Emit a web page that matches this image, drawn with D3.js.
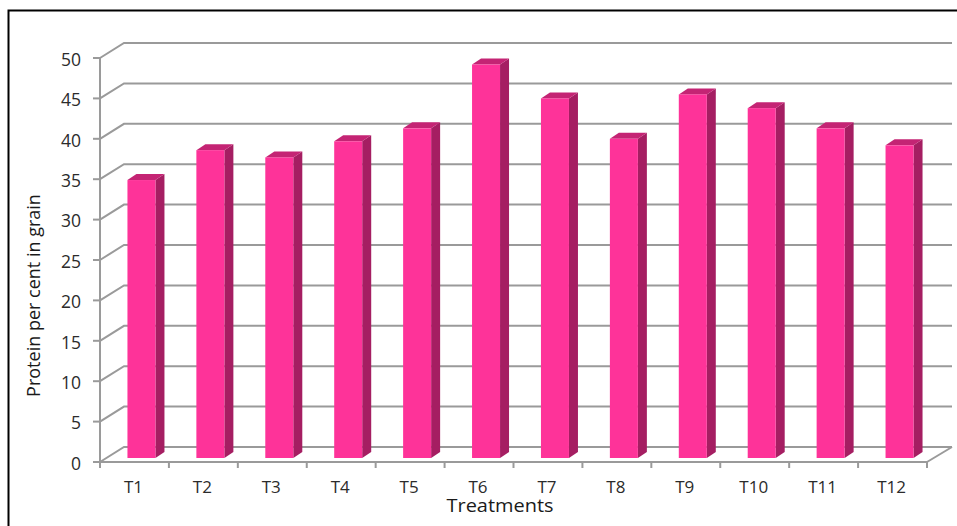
<!DOCTYPE html>
<html>
<head>
<meta charset="utf-8">
<script src="https://cdn.jsdelivr.net/npm/d3@7"></script>
<style>
html,body{margin:0;padding:0;background:#fff;overflow:hidden}
svg{display:block}
text{font-family:"Open Sans",sans-serif;fill:#2b2b2b}
</style>
</head>
<body>
<svg id="chart" width="957" height="526"></svg>
<script>
// Protein content of grain for each treatment
const treatments = ["T1","T2","T3","T4","T5","T6","T7","T8","T9","T10","T11","T12"];
const proteinValues = [34.4,38.1,37.2,39.2,40.8,48.7,44.5,39.5,45.0,43.3,40.8,38.7];
const yTicks = [0,5,10,15,20,25,30,35,40,45,50];
const axisTitleX = "Treatments";
const axisTitleY = "Protein per cent in grain";

const svg = d3.select("#chart");

// Frame around the chart; it runs off the right and bottom edges
svg.append("path")
  .attr("d","M8.5,526V10.5H957")
  .attr("fill","none").attr("stroke","#000").attr("stroke-width",2);

// Front plane of the 3D box, plus the offset to the back wall
const x = d3.scaleBand().domain(treatments).range([100,927]);
const y = d3.scaleLinear().domain([0,50]).range([462,58]);
const wall = {dx:24, dy:-15};
const barShift = {dx:7, dy:-4};   // bars stand a little behind the front edge
const barWidth = 28;
const side = {dx:9, dy:-6};

const grid = svg.append("g").attr("stroke","#9a9a9a").attr("stroke-width",2).attr("fill","none");

// Back-wall gridlines with their diagonals on the left wall
grid.selectAll("path.gridline").data(yTicks).join("path")
  .attr("class","gridline")
  .attr("d",d=>`M${x.range()[0]},${y(d)}L${x.range()[0]+wall.dx},${y(d)+wall.dy}H${x.range()[1]+wall.dx+1}`);

// Floor's right edge
grid.append("path")
  .attr("d",`M${x.range()[1]},${y(0)}L${x.range()[1]+wall.dx+1},${y(0)+wall.dy}`);

// Vertical and horizontal axis lines
grid.append("path").attr("d",`M${x.range()[0]},${y(50)}V${y(0)}H${x.range()[1]}`);

// Tick marks
grid.selectAll("line.ytick").data(yTicks).join("line")
  .attr("class","ytick")
  .attr("x1",x.range()[0]-7).attr("x2",x.range()[0])
  .attr("y1",d=>y(d)).attr("y2",d=>y(d));
const xEdges = treatments.map(t=>x(t)).concat(x.range()[1]);
grid.selectAll("line.xtick").data(xEdges).join("line")
  .attr("class","xtick")
  .attr("x1",d=>d).attr("x2",d=>d)
  .attr("y1",y(0)).attr("y2",y(0)+6);

// Bars: front face, top face and right-hand side
const bars = svg.append("g").selectAll("g").data(treatments.map((t,i)=>({t,v:proteinValues[i]}))).join("g")
  .attr("transform",d=>`translate(${x(d.t)+x.bandwidth()/2-barWidth/2+barShift.dx},${barShift.dy})`);

bars.append("path").attr("fill","#a51e62")
  .attr("d",d=>`M${barWidth},${y(d.v)}l${side.dx},${side.dy}V${y(0)+side.dy}l${-side.dx},${-side.dy}Z`);
bars.append("path").attr("fill","#c42474")
  .attr("d",d=>`M0,${y(d.v)}l${side.dx},${side.dy}h${barWidth}l${-side.dx},${-side.dy}Z`);
bars.append("rect").attr("fill","#fe3399")
  .attr("x",0).attr("width",barWidth)
  .attr("y",d=>y(d.v)).attr("height",d=>y(0)-y(d.v));

// Tick labels
svg.append("g").selectAll("text").data(yTicks).join("text")
  .attr("x",x.range()[0]-19).attr("y",d=>y(d)+1.4).attr("dy","0.36em")
  .attr("text-anchor","end").attr("font-size",17.5).text(d=>d);
svg.append("g").selectAll("text").data(treatments).join("text")
  .attr("x",d=>x(d)+x.bandwidth()/2-1).attr("y",492.5)
  .attr("text-anchor","middle").attr("font-size",17).text(d=>d);

// Axis titles
svg.append("text").attr("x",500).attr("y",512).attr("text-anchor","middle")
  .attr("font-size",18).attr("textLength",107).attr("lengthAdjust","spacingAndGlyphs")
  .style("fill","#1a1a1a").text(axisTitleX);
svg.append("text").attr("transform","translate(40,295.5) rotate(-90)").attr("text-anchor","middle")
  .attr("font-size",18).style("fill","#1a1a1a").text(axisTitleY);
</script>
</body>
</html>
